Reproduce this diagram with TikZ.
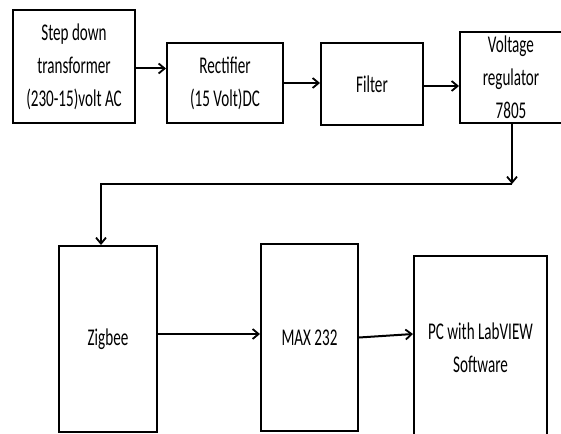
\documentclass[tikz,border=0pt]{standalone}
\usepackage{fontspec}
\newfontfamily\nar[FakeStretch=0.63]{Carlito}
\usetikzlibrary{arrows.meta}
\tikzset{
  blk/.style={draw, line width=2pt, inner sep=0pt, align=center,
    font=\nar\fontsize{24}{33}\selectfont},
  arr/.style={line width=2pt, -{Straight Barb[length=6pt,width=10pt,line width=1.8pt]}},
  lin/.style={line width=2pt}
}
\begin{document}
\begin{tikzpicture}[x=1pt,y=-1pt]
\useasboundingbox[fill=white] (0,0) rectangle (561,433);
\node[blk, minimum width=122, minimum height=113] (sd) at (74,66.5) {Step down\\transformer\\(230-15)volt AC};
\node[blk, minimum width=116, minimum height=80] (rect) at (225,83) {Rectifier\\(15 Volt)DC};
\node[blk, minimum width=102, minimum height=82] (filt) at (372,84) {Filter};
\node[blk, minimum width=102, minimum height=91] (vr) at (511,77.5) {Voltage\\regulator\\7805};
\node[blk, minimum width=98, minimum height=186] (zig) at (108,339) {Zigbee};
\node[blk, minimum width=97, minimum height=187] (max) at (309.5,337.5) {MAX 232};
\node[blk, minimum width=133, minimum height=184] (pc) at (480.5,348) {PC with LabVIEW\\Software};
\coordinate (c1) at (512,184);
\coordinate (c2) at (101,184);
\draw[arr] ([yshift=-2]sd.east) -- ([yshift=-2]sd.east -| rect.west);
\draw[arr] (rect.east) -- (rect.east -| filt.west);
\draw[arr] ([yshift=-2]filt.east) -- ([yshift=-2]filt.east -| vr.west);
\draw[arr] (vr.south -| c1) -- (c1);
\draw[arr] (c1) -- (c2) -- (c2 |- zig.north);
\draw[arr] ([yshift=5]zig.east) -- ([yshift=5]zig.east -| max.west);
\draw[arr] (max.east) -- ([yshift=14]pc.west);
\end{tikzpicture}
\end{document}
